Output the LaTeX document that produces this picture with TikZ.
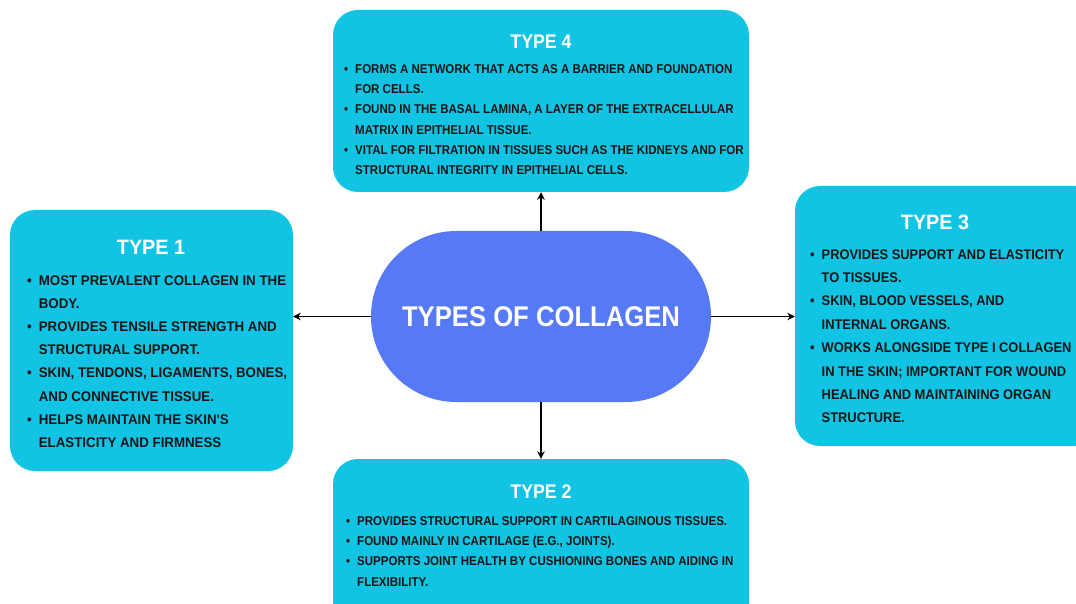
\documentclass[tikz,border=0pt]{standalone}
\usepackage{fontspec}
\setmainfont{Liberation Sans}
\newfontfamily\fA[FakeStretch=0.9]{Liberation Sans}
\newfontfamily\fB[FakeStretch=0.95]{Liberation Sans}
\newfontfamily\fC[FakeStretch=0.92]{Liberation Sans}
\usetikzlibrary{arrows.meta}
\definecolor{cyanbox}{RGB}{18,196,227}
\definecolor{hubblue}{RGB}{86,121,246}
\definecolor{txt}{RGB}{22,22,22}
\tikzset{
  infobox/.style={draw=none, fill=cyanbox, rounded corners=25pt, inner sep=0pt},
  hub/.style={draw=none, fill=hubblue, rounded corners=85.4pt, inner sep=0pt,
     minimum width=340pt, minimum height=171pt, text=white,
     font=\fA\bfseries\fontsize{28.5}{30}\selectfont},
  titleA/.style={text=white, inner sep=0pt, font=\fA\bfseries\fontsize{19.7}{22}\selectfont},
  titleB/.style={text=white, inner sep=0pt, font=\fB\bfseries\fontsize{20.8}{23}\selectfont},
  bodyA/.style={text=txt, inner sep=0pt, anchor=base west, font=\fA\bfseries\fontsize{12.8}{20.2}\selectfont},
  bodyB/.style={text=txt, inner sep=0pt, anchor=base west, font=\fB\bfseries\fontsize{14}{23.2}\selectfont},
  bodyC/.style={text=txt, inner sep=0pt, anchor=base west, font=\fC\bfseries\fontsize{14}{23.4}\selectfont},
  arr/.style={line width=1.4pt, black, -{Stealth[length=7.5pt,width=7.5pt]}}
}
\newcommand{\bl}{\textbullet}
\begin{document}
\begin{tikzpicture}[x=1pt,y=-1pt]
\useasboundingbox (0,0) rectangle (1076,604);
\clip (0,0) rectangle (1076,604);
\fill[white] (0,0) rectangle (1076,604);
% boxes
\node[infobox, minimum width=416pt, minimum height=182pt] (t4) at (541,101) {};
\node[infobox, minimum width=283pt, minimum height=261pt] (t1) at (151.5,340.5) {};
\node[infobox, minimum width=305pt, minimum height=260pt] (t3) at (947.5,316) {};
\node[infobox, minimum width=416pt, minimum height=201pt] (t2) at (541,559.5) {};
\node[hub] (c) at (541,316.5) {\raisebox{-2pt}{TYPES OF COLLAGEN}\hspace{12pt}};
% arrows
\draw[arr] (c.north) -- (t4.south);
\draw[arr] (c.south) -- (t2.north);
\draw[arr] (c.west) -- (c.west -| t1.east);
\draw[arr] (c.east) -- (c.east -| t3.west);
% titles
\node[titleA] (h4) at (541,42) {TYPE 4};
\node[titleA] (h2) at (541,492) {TYPE 2};
\node[titleB] (h1) at (151,247) {TYPE 1};
\node[titleB] (h3) at (935,222) {TYPE 3};
% bodies
\node[bodyA] (b4) at (344,73.5) {\begin{tabular}[t]{@{}l@{\hspace{7pt}}l@{}}
\bl & FORMS A NETWORK THAT ACTS AS A BARRIER AND FOUNDATION\\
    & FOR CELLS.\\
\bl & FOUND IN THE BASAL LAMINA, A LAYER OF THE EXTRACELLULAR\\
    & MATRIX IN EPITHELIAL TISSUE.\\
\bl & VITAL FOR FILTRATION IN TISSUES SUCH AS THE KIDNEYS AND FOR\\
    & STRUCTURAL INTEGRITY IN EPITHELIAL CELLS.
\end{tabular}};
\node[bodyA] (b2) at (346,525.5) {\begin{tabular}[t]{@{}l@{\hspace{7pt}}l@{}}
\bl & PROVIDES STRUCTURAL SUPPORT IN CARTILAGINOUS TISSUES.\\
\bl & FOUND MAINLY IN CARTILAGE (E.G., JOINTS).\\
\bl & SUPPORTS JOINT HEALTH BY CUSHIONING BONES AND AIDING IN\\
    & FLEXIBILITY.
\end{tabular}};
\node[bodyB] (b1) at (27,285) {\begin{tabular}[t]{@{}l@{\hspace{7pt}}l@{}}
\bl & MOST PREVALENT COLLAGEN IN THE\\
    & BODY.\\
\bl & PROVIDES TENSILE STRENGTH AND\\
    & STRUCTURAL SUPPORT.\\
\bl & SKIN, TENDONS, LIGAMENTS, BONES,\\
    & AND CONNECTIVE TISSUE.\\
\bl & HELPS MAINTAIN THE SKIN'S\\
    & ELASTICITY AND FIRMNESS
\end{tabular}};
\node[bodyC] (b3) at (810,259) {\begin{tabular}[t]{@{}l@{\hspace{7pt}}l@{}}
\bl & PROVIDES SUPPORT AND ELASTICITY\\
    & TO TISSUES.\\
\bl & SKIN, BLOOD VESSELS, AND\\
    & INTERNAL ORGANS.\\
\bl & WORKS ALONGSIDE TYPE I COLLAGEN\\
    & IN THE SKIN; IMPORTANT FOR WOUND\\
    & HEALING AND MAINTAINING ORGAN\\
    & STRUCTURE.
\end{tabular}};
\end{tikzpicture}
\end{document}
